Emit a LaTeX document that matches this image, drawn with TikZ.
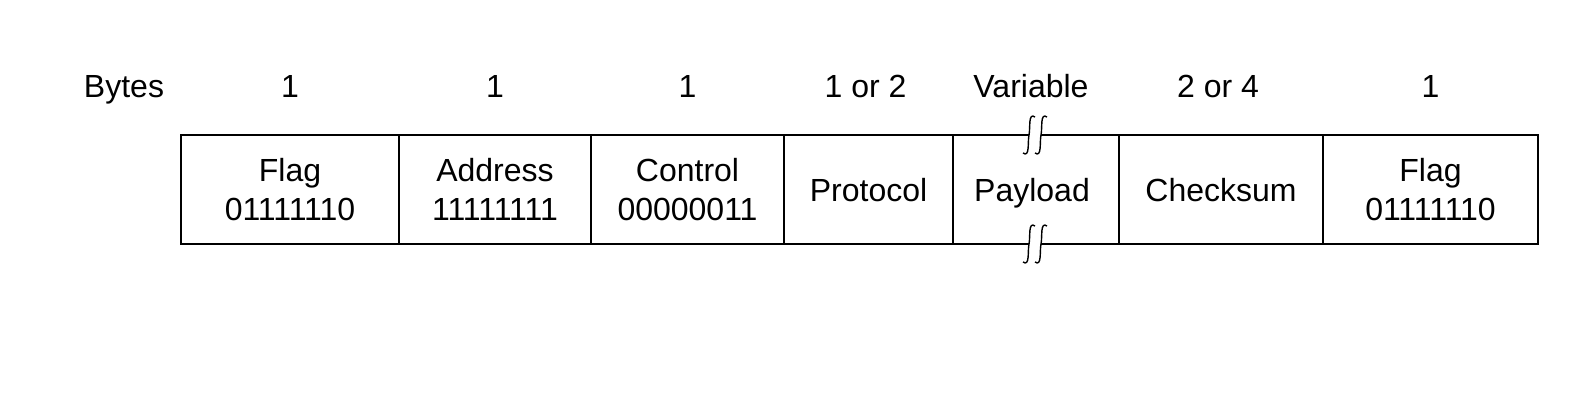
\documentclass[tikz,border=0pt]{standalone}
\usepackage{fontspec}
\setmainfont{Liberation Sans}
\usetikzlibrary{positioning}

\tikzset{
  field/.style={draw, rectangle, minimum height=54.5pt, inner sep=0pt, outer sep=0pt, align=center, text depth=0pt},
  bytecount/.style={anchor=base, inner sep=0pt}
}

\begin{document}
\begin{tikzpicture}[x=0.5pt, y=-0.5pt, line width=0.7pt, font=\fontsize{16}{19.6}\selectfont]
  \useasboundingbox (0,0) rectangle (1596,411);
  % the frame
  \node[field, minimum width=109pt, anchor=north west] (flag1) at (181,135) {Flag\\01111110};
  \node[field, minimum width=96pt, right=0pt of flag1] (addr) {Address\\11111111};
  \node[field, minimum width=96.5pt, right=0pt of addr] (ctrl) {Control\\00000011};
  \node[field, minimum width=84.5pt, right=0pt of ctrl] (proto) {Protocol};
  \node[field, minimum width=83pt, right=0pt of proto] (payload) {Payload\hspace{4pt}};
  \node[field, minimum width=102pt, right=0pt of payload] (chk) {Checksum};
  \node[field, minimum width=107.5pt, right=0pt of chk] (flag2) {Flag\\01111110};

  % byte counts
  \node[bytecount] (bytes) at (124,97.5) {Bytes};
  \node[bytecount] (n1) at ([yshift=18.75pt]flag1.north) {1};
  \node[bytecount] (n2) at ([yshift=18.75pt]addr.north) {1};
  \node[bytecount] (n3) at ([yshift=18.75pt]ctrl.north) {1};
  \node[bytecount] (n4) at ([yshift=18.75pt,xshift=-1.5pt]proto.north) {1 or 2};
  \node[bytecount] (n5) at ([yshift=18.75pt,xshift=-2.5pt]payload.north) {Variable};
  \node[bytecount] (n6) at ([yshift=18.75pt,xshift=-1.5pt]chk.north) {2 or 4};
  \node[bytecount] (n7) at ([yshift=18.75pt]flag2.north) {1};

  % break marks on the payload
  \foreach \y in {135,244} {
    \fill[white] (1029,\y-2) rectangle (1041,\y+2);
    \foreach \x in {1029,1041}
      \draw (\x+6,\y-18) .. controls (\x-1,\y-23) and (\x+1.5,\y-7) .. (\x,\y)
        .. controls (\x-1.5,\y+7) and (\x+1,\y+23) .. (\x-6,\y+18);
  }
\end{tikzpicture}
\end{document}
